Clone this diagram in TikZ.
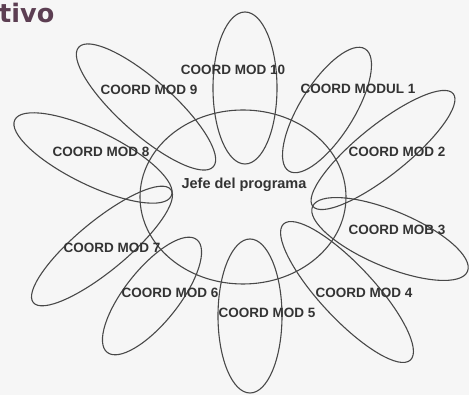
\documentclass[tikz,border=0pt]{standalone}
\usepackage{fontspec}
\setmainfont{Liberation Sans}
\newfontfamily\titlefont{DejaVu Sans}
\usetikzlibrary{shapes.geometric}
\definecolor{scanbg}{RGB}{246,246,246}
\definecolor{inkgray}{RGB}{72,72,72}
\definecolor{titlepurple}{RGB}{92,62,82}

\begin{document}
\begin{tikzpicture}[
    x=1pt, y=1pt,
    petal/.style={draw=inkgray, ellipse, line width=1.1pt, inner sep=0pt},
    coordtxt/.style={text=black!80, font=\fontsize{13.5}{15}\selectfont\bfseries, inner sep=0pt},
    jefetxt/.style={text=black!80, font=\fontsize{14.5}{16}\selectfont\bfseries, inner sep=0pt}
  ]
  \fill[scanbg] (0,0) rectangle (469,395);
  \useasboundingbox (0,0) rectangle (469,395);

  %% title fragment
  \node (title) [anchor=base west, text=titlepurple, inner sep=0pt,
        font=\titlefont\fontsize{25.5}{27}\selectfont\bfseries] at (-1,372) {tivo};

  %% central ellipse
  \node (jefe) [petal, minimum width=206pt, minimum height=174pt] at (243,198) {};

  %% petals
  \node (m10) [petal, minimum width=152pt, minimum height=64pt, rotate=90]    at (245,307) {};
  \node (m1)  [petal, minimum width=144pt, minimum height=54pt, rotate=58]    at (327,285) {};
  \node (m2)  [petal, minimum width=180pt, minimum height=50pt, rotate=38.7]  at (383,245) {};
  \node (m3)  [petal, minimum width=168pt, minimum height=56pt, rotate=-22.7] at (390,156) {};
  \node (m4)  [petal, minimum width=186pt, minimum height=54pt, rotate=-47]   at (347,103) {};
  \node (m5)  [petal, minimum width=154pt, minimum height=64pt, rotate=90]    at (250,79)  {};
  \node (m6)  [petal, minimum width=144pt, minimum height=54pt, rotate=51.5]  at (152,99)  {};
  \node (m7)  [petal, minimum width=178pt, minimum height=50pt, rotate=39.5]  at (102,149) {};
  \node (m8)  [petal, minimum width=174pt, minimum height=54pt, rotate=-26]   at (93,237)  {};
  \node (m9)  [petal, minimum width=180pt, minimum height=54pt, rotate=-41.6] at (146,288) {};

  %% labels
  \node (jefet) [jefetxt]  at (244,210) {Jefe del programa};
  \node (t10)   [coordtxt] at (233,325) {COORD MOD 10};
  \node (t9)    [coordtxt] at (149,305) {COORD MOD 9};
  \node (t1)    [coordtxt] at (358,306) {COORD MODUL 1};
  \node (t8)    [coordtxt] at (101,243) {COORD MOD 8};
  \node (t2)    [coordtxt] at (397,243) {COORD MOD 2};
  \node (t3)    [coordtxt] at (397,165) {COORD MOB 3};
  \node (t7)    [coordtxt] at (112,147) {COORD MOD 7};
  \node (t6)    [coordtxt] at (170,102) {COORD MOD 6};
  \node (t4)    [coordtxt] at (364,102) {COORD MOD 4};
  \node (t5)    [coordtxt] at (267,82)  {COORD MOD 5};

\end{tikzpicture}
\end{document}
